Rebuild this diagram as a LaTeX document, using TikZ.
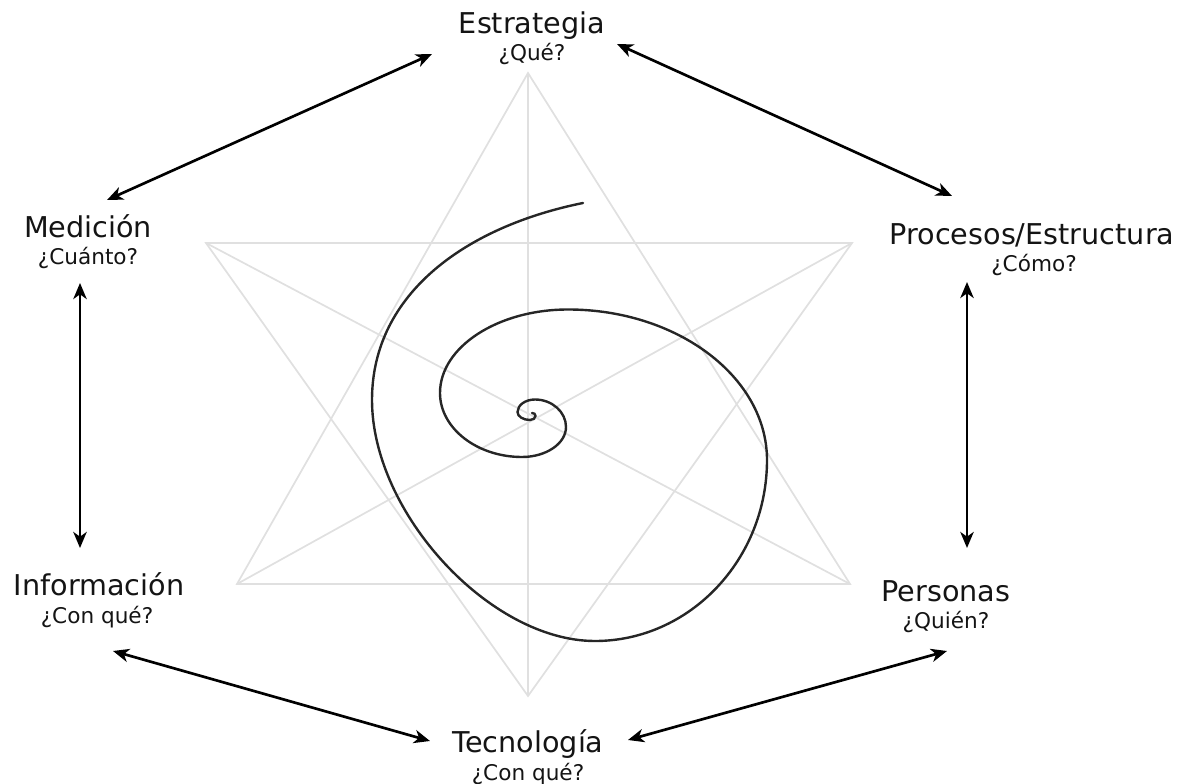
\documentclass[tikz,border=0pt]{standalone}
\usepackage{fontspec}
\setmainfont{DejaVu Sans}
\usetikzlibrary{arrows.meta, calc}

\tikzset{
  ttl/.style={font=\fontsize{21.5}{24}\selectfont, text=black!92, inner sep=0pt, anchor=base},
  qst/.style={font=\fontsize{16.2}{18}\selectfont, text=black!92, inner sep=0pt, anchor=base},
  link/.style={<->, line width=2pt, black},
  starline/.style={line width=1.3pt, black!12},
}

\begin{document}
\begin{tikzpicture}[x=0.75pt, y=-0.75pt, >={Stealth[length=12pt,width=10pt,inset=3.5pt]}]
  \useasboundingbox (0,0) rectangle (1181,784);
  % --- star in the background ---
  \coordinate (T) at (528,73);
  \coordinate (B) at (528,696);
  \coordinate (TL) at (206,243);
  \coordinate (TR) at (852,243);
  \coordinate (BL) at (237,584);
  \coordinate (BR) at (850,584);
  \draw[starline] (T) -- (BL) -- (BR) -- cycle;
  \draw[starline] (TL) -- (TR) -- (B) -- cycle;
  \draw[starline] (T) -- (B);
  \draw[starline] (TL) -- (BR);
  \draw[starline] (TR) -- (BL);
  % --- spiral ---
  \draw[line width=1.8pt, black!85, line cap=round]
    (532,413) .. controls (534,413) and (535.5,414) .. (535.5,416)
    .. controls (535.5,418.2) and (533,420) .. (530,420)
    .. controls (523.1,420) and (517.5,416.4) .. (517.5,412)
    .. controls (517.5,405.1) and (525.4,399.5) .. (535,399.5)
    .. controls (552,399.5) and (566,411.9) .. (566,427)
    .. controls (566,443.5) and (546.2,457) .. (522,457)
    .. controls (476.9,457) and (440,428.2) .. (440,393)
    .. controls (440,347.1) and (497.6,309.5) .. (568,309.5)
    .. controls (677.5,309.5) and (767,377.2) .. (767,460)
    .. controls (767,559.6) and (689.6,641) .. (595,641)
    .. controls (490,641) and (372,513) .. (372,400)
    .. controls (372,291.7) and (469,226) .. (583,203);
  % --- labels ---
  \node[ttl] (estr) at (532,34) {Estrategia};
  \node[qst] (estrq) at (532,61) {¿Qué?};
  \node[ttl] (med) at (88,238) {Medición};
  \node[qst] (medq) at (88,265) {¿Cuánto?};
  \node[ttl] (proc) at (1032,245) {Procesos/Estructura};
  \node[qst] (procq) at (1034,272) {¿Cómo?};
  \node[ttl] (info) at (99,595) {Información};
  \node[qst] (infoq) at (97,623) {¿Con qué?};
  \node[ttl] (pers) at (946,601) {Personas};
  \node[qst] (persq) at (946,628) {¿Quién?};
  \node[ttl] (tecn) at (528,752) {Tecnología};
  \node[qst] (tecnq) at (528,780) {¿Con qué?};
  % --- arrows between the labels ---
  \draw[link] ([shift={(-100,20)}]estr.base) -- ([shift={(19,-38)}]med.base);
  \draw[link] ([shift={(85,10)}]estr.base) -- ([shift={(-80,-49)}]proc.base);
  \draw[link] ([shift={(-8,18)}]medq.base) -- ([shift={(-19,-47)}]info.base);
  \draw[link] ([shift={(-67,10)}]procq.base) -- ([shift={(21,-53)}]pers.base);
  \draw[link] ([shift={(16,28)}]infoq.base) -- ([shift={(-98,-11)}]tecn.base);
  \draw[link] ([shift={(100,-12)}]tecn.base) -- ([shift={(1,23)}]persq.base);
\end{tikzpicture}
\end{document}
